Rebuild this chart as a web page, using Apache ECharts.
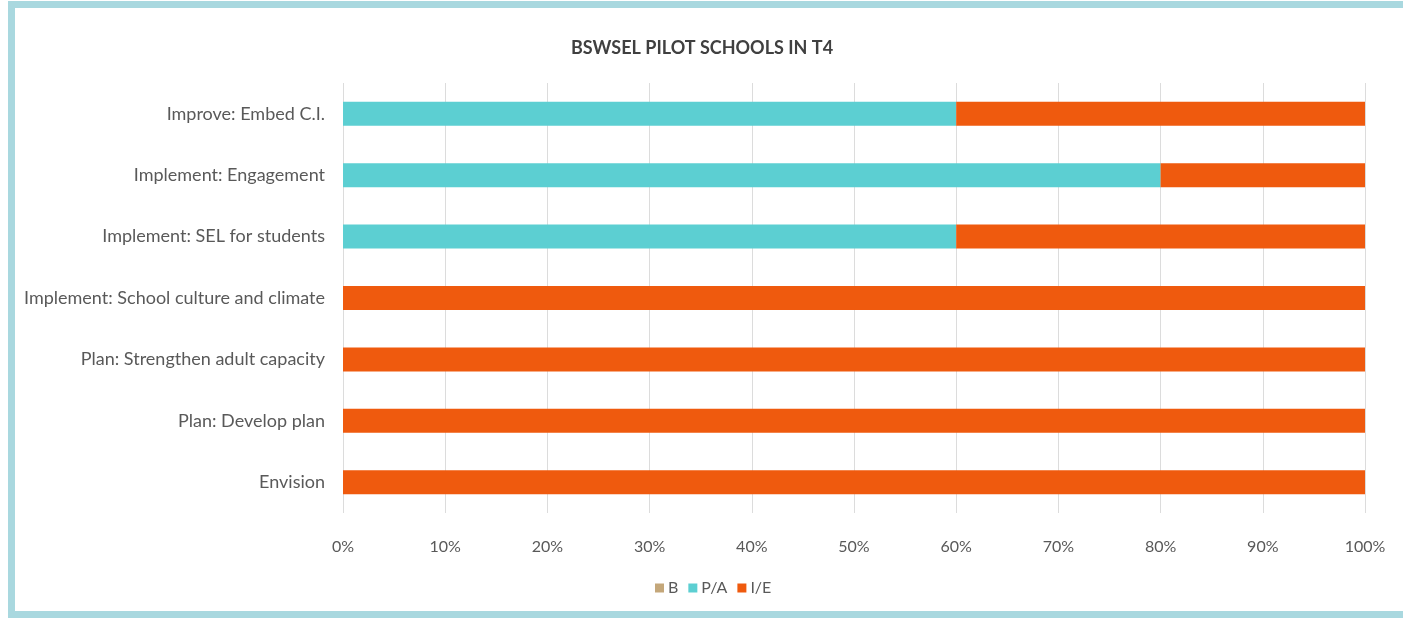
<!DOCTYPE html>
<html>
<head>
<meta charset="utf-8">
<script src="https://cdn.jsdelivr.net/npm/echarts@6/dist/echarts.min.js"></script>
<style>
  html, body { margin: 0; padding: 0; background: #fff; }
  #chart { position: absolute; left: 0; top: 0; width: 1403px; height: 625px; }
  #frame {
    position: absolute; left: 8px; top: 1px; width: 1395px; height: 617px;
    box-sizing: border-box;
    border-top: 7px solid #a9d8df;
    border-left: 7px solid #a9d8df;
    border-bottom: 7px solid #a9d8df;
    pointer-events: none;
  }
</style>
</head>
<body>
<div id="chart"></div>
<div id="frame"></div>
<script>
const categories = [
  "Envision",
  "Plan: Develop plan",
  "Plan: Strengthen adult capacity",
  "Implement: School culture and climate",
  "Implement: SEL for students",
  "Implement: Engagement",
  "Improve: Embed C.I."
];
const seriesNames = ["B", "P/A", "I/E"];
const bValues  = [0, 0, 0, 0, 0, 0, 0];
const paValues = [0, 0, 0, 0, 60, 80, 60];
const ieValues = [100, 100, 100, 100, 40, 20, 40];
const colors = ["#c4a77a", "#5ccfd2", "#ef5a0e"];

const chart = echarts.init(document.getElementById("chart"));
const textColor = "#595959";
const font = "Lato, 'Open Sans', sans-serif";

const mk = (name, data, i) => ({
  name: name,
  type: "bar",
  stack: "total",
  barWidth: 24,
  data: data,
  itemStyle: { color: colors[i] }
});

chart.setOption({
  animation: false,
  title: {
    text: "BSWSEL PILOT SCHOOLS IN T4",
    left: 697,
    textAlign: "center",
    top: 34,
    textStyle: { color: "#404040", fontSize: 18, fontWeight: "bold", fontFamily: font }
  },
  grid: { left: 343, right: 38, top: 83, bottom: 112 },
  legend: {
    bottom: 24,
    left: 650,
    itemWidth: 9,
    itemHeight: 9,
    itemGap: 10,
    icon: "rect",
    textStyle: { color: textColor, fontSize: 16, fontFamily: font, padding: [0, 0, 0, -1] },
    data: seriesNames
  },
  xAxis: {
    type: "value",
    min: 0,
    max: 100,
    interval: 10,
    axisLine: { show: false },
    axisTick: { show: false },
    axisLabel: { color: textColor, fontSize: 16, fontFamily: font, margin: 26, formatter: "{value}%" },
    splitLine: { lineStyle: { color: "#dcdcdc", width: 1 } }
  },
  yAxis: {
    type: "category",
    data: categories,
    axisLine: { show: false },
    axisTick: { show: false },
    axisLabel: { color: textColor, fontSize: 18, fontFamily: font, margin: 18 }
  },
  series: [
    mk(seriesNames[0], bValues, 0),
    mk(seriesNames[1], paValues, 1),
    mk(seriesNames[2], ieValues, 2)
  ]
});
</script>
</body>
</html>
